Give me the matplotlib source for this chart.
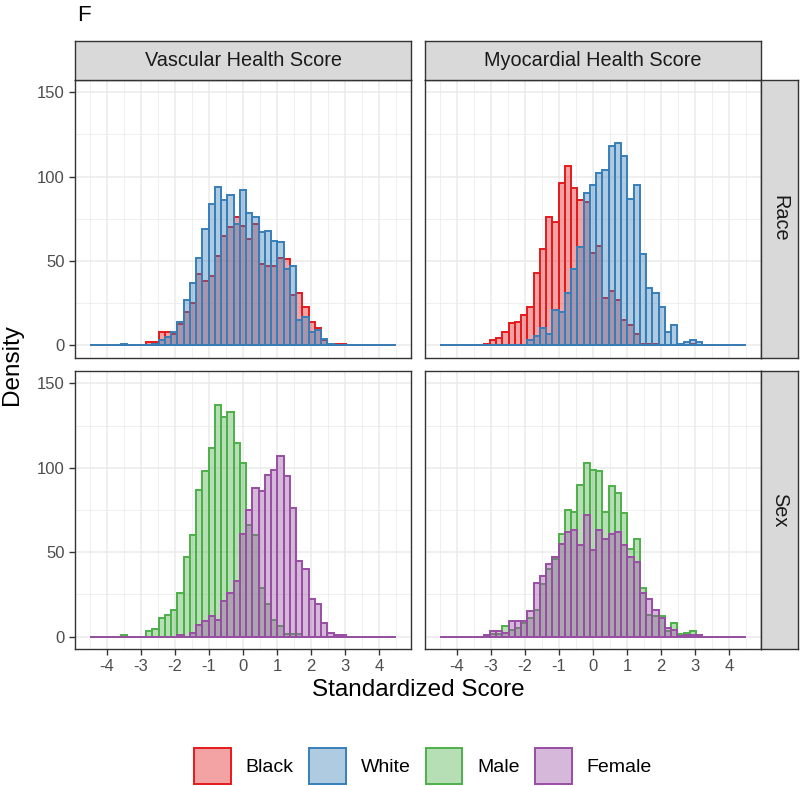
import numpy as np
import matplotlib
matplotlib.use('Agg')
import matplotlib.pyplot as plt
from matplotlib.patches import Patch
from matplotlib.colors import to_rgba

plt.rcParams['font.family'] = ['Liberation Sans', 'DejaVu Sans']
plt.rcParams['axes.unicode_minus'] = False

# ---------------- data ----------------
score_types = ['Vascular Health Score', 'Myocardial Health Score']
facet_rows = ['Race', 'Sex']
group_names = ['Black', 'White', 'Male', 'Female']
group_colors = ['#E41A1C', '#377EB8', '#4DAF4A', '#984EA3']
x_ticks = [-4, -3, -2, -1, 0, 1, 2, 3, 4]
y_ticks = [0, 50, 100, 150]
bin_lo, bin_hi, n_bins = -4.5, 4.5, 49

vascular_black = [0, 0, 0, 0, 0, 0, 0, 0, 0,
                  2, 2, 8, 8, 7, 12.5, 20, 25, 42, 38, 41, 53, 65, 70, 76, 71, 63, 72, 48, 47,
                  47, 52, 51, 30, 31, 23, 14, 10, 3, 0, 1, 1,
                  0, 0, 0, 0, 0, 0, 0, 0]
vascular_white = [0, 0, 0, 0, 0, 1, 0, 0, 0, 0,
                  1, 3, 5, 8, 14, 27, 37, 52, 69, 83.5, 94, 86, 89, 72, 92, 78.5, 76, 67, 68, 62,
                  61, 45, 47, 15, 17, 8, 9, 4, 1,
                  0, 0, 0, 0, 0, 0, 0, 0, 0, 0]
myocardial_black = [0, 0, 0, 0, 0, 0, 0,
                    1, 3.4, 4.4, 8, 13, 14, 18, 23, 43, 57, 76, 73, 96, 106, 93, 86, 85, 55, 59, 28,
                    32, 27, 15, 12, 7, 1, 1, 1, 0, 0, 0, 0, 0, 1,
                    0, 0, 0, 0, 0, 0, 0, 0]
myocardial_white = [0, 0, 0, 0, 0, 0, 0, 0, 0, 0, 0, 0, 0, 0,
                    3.4, 5.3, 10, 7, 21, 20, 31, 45.5, 58, 90, 95, 102, 104, 118, 120, 112, 87, 95,
                    54, 34, 31, 23, 8, 12, 1, 2, 3.4, 2,
                    0, 0, 0, 0, 0, 0, 0]
vascular_male = [0, 0, 0, 0, 0, 1, 0, 0, 0,
                 3, 4.4, 11, 13, 16, 26, 47, 60, 87, 98, 112, 137, 130, 133, 115, 103, 66, 60, 29,
                 19, 10, 6, 1.4, 1.4, 1.4,
                 0, 0, 0, 0, 0, 0, 0, 0, 0, 0, 0, 0, 0, 0, 0]
vascular_female = [0, 0, 0, 0, 0, 0, 0, 0, 0, 0, 0, 0, 0, 0,
                   1, 0, 2, 7, 9, 12, 10, 21, 26, 33, 61, 75, 88, 86, 96, 99, 107, 95, 76, 45,
                   40, 22, 19, 8, 2, 1, 1,
                   0, 0, 0, 0, 0, 0, 0, 0]
myocardial_male = [0, 0, 0, 0, 0, 0, 0, 0,
                   1.4, 1.5, 6.3, 4, 5, 8, 11, 16, 31, 40, 46, 61, 75, 74, 90, 103, 99, 98, 74, 89,
                   85, 73, 52, 58, 29, 13, 12, 12, 3, 8, 1.4, 2, 3.4,
                   0, 0, 0, 0, 0, 0, 0, 0]
myocardial_female = [0, 0, 0, 0, 0, 0, 0,
                     1, 3, 3, 2, 9, 9, 9, 15, 32, 36, 43, 47, 55, 62, 63, 54, 72, 51, 63, 58,
                     61, 62, 54, 47, 44, 26, 22, 16, 11, 5, 4, 0.6, 1, 1, 1,
                     0, 0, 0, 0, 0, 0, 0]

panel_series = {
    ('Race', 'Vascular Health Score'): [('Black', vascular_black), ('White', vascular_white)],
    ('Race', 'Myocardial Health Score'): [('Black', myocardial_black), ('White', myocardial_white)],
    ('Sex', 'Vascular Health Score'): [('Male', vascular_male), ('Female', vascular_female)],
    ('Sex', 'Myocardial Health Score'): [('Male', myocardial_male), ('Female', myocardial_female)],
}

# ---------------- layout ----------------
W, H = 800, 786
fig = plt.figure(figsize=(W / 100, H / 100), dpi=100)

def px_axes(x0, y0, x1, y1, **kw):
    return fig.add_axes([x0 / W, 1 - y1 / H, (x1 - x0) / W, (y1 - y0) / H], **kw)

col_x = [(74.7, 411.3), (424.7, 761.3)]
row_y = [(79.6, 358.0), (370.8, 649.2)]
strip_top = (41.0, 79.6)
strip_right = (761.3, 798.0)

edges = np.linspace(bin_lo, bin_hi, n_bins + 1)
centers = (edges[:-1] + edges[1:]) / 2
bw = edges[1] - edges[0]
color_of = dict(zip(group_names, group_colors))

border = '#333333'
for r, row in enumerate(facet_rows):
    for c, score in enumerate(score_types):
        ax = px_axes(col_x[c][0], row_y[r][0], col_x[c][1], row_y[r][1])
        ax.set_facecolor('white')
        ax.set_xlim(-4.95, 4.95)
        ax.set_ylim(-7.5, 157.5)
        ax.set_xticks(x_ticks)
        ax.set_xticks(np.arange(-4.5, 4.51, 1.0), minor=True)
        ax.set_yticks(y_ticks)
        ax.set_yticks([25, 75, 125], minor=True)
        ax.grid(True, which='major', color='#EBEBEB', lw=1.1)
        ax.grid(True, which='minor', color='#EBEBEB', lw=0.55)
        ax.set_axisbelow(True)
        for s in ax.spines.values():
            s.set_color(border)
            s.set_linewidth(1.0)
        ax.tick_params(which='minor', length=0)
        ax.tick_params(which='major', color=border, width=1.0, length=4,
                       labelsize=12, labelcolor='#4D4D4D', pad=3)
        if r == 0:
            ax.tick_params(axis='x', which='major', length=0, labelbottom=False)
        if c == 1:
            ax.tick_params(axis='y', which='major', length=0, labelleft=False)
        for name, vals in panel_series[(row, score)]:
            col = color_of[name]
            ax.bar(centers, vals, width=bw, facecolor=to_rgba(col, 0.4),
                   edgecolor=col, linewidth=1.4, zorder=2)

        # strips
        if r == 0:
            sa = px_axes(col_x[c][0], strip_top[0], col_x[c][1], strip_top[1])
            sa.set_facecolor('#D9D9D9')
            sa.set_xticks([]); sa.set_yticks([])
            for s in sa.spines.values():
                s.set_color(border); s.set_linewidth(1.0)
            sa.text(0.5, 0.5, score, ha='center', va='center', fontsize=14.3,
                    color='#1A1A1A', transform=sa.transAxes)
        if c == 1:
            sa = px_axes(strip_right[0], row_y[r][0], strip_right[1], row_y[r][1])
            sa.set_facecolor('#D9D9D9')
            sa.set_xticks([]); sa.set_yticks([])
            for s in sa.spines.values():
                s.set_color(border); s.set_linewidth(1.0)
            sa.text(0.5, 0.5, row, ha='center', va='center', fontsize=14.3,
                    rotation=-90, color='#1A1A1A', transform=sa.transAxes)

# axis titles
fig.text(418 / W, 1 - 690 / H, 'Standardized Score', ha='center', va='center',
         fontsize=17.5, color='black')
fig.text(12 / W, 1 - 364.5 / H, 'Density', ha='center', va='center',
         rotation=90, fontsize=17.5, color='black')
fig.text(77 / W, 1 - 20.7 / H, 'F', ha='left', va='baseline', fontsize=16, color='black')

# legend
handles = [Patch(facecolor=to_rgba(c, 0.4), edgecolor=c, linewidth=1.4)
           for c in group_colors]
fig.legend(handles, group_names, loc='center', bbox_to_anchor=(423 / W, 1 - 766 / H),
           ncol=4, frameon=False, fontsize=14, handlelength=1.9, handleheight=2.55,
           handletextpad=0.77, columnspacing=0.77, borderpad=0, borderaxespad=0)

fig.savefig('out.png', dpi=100)
